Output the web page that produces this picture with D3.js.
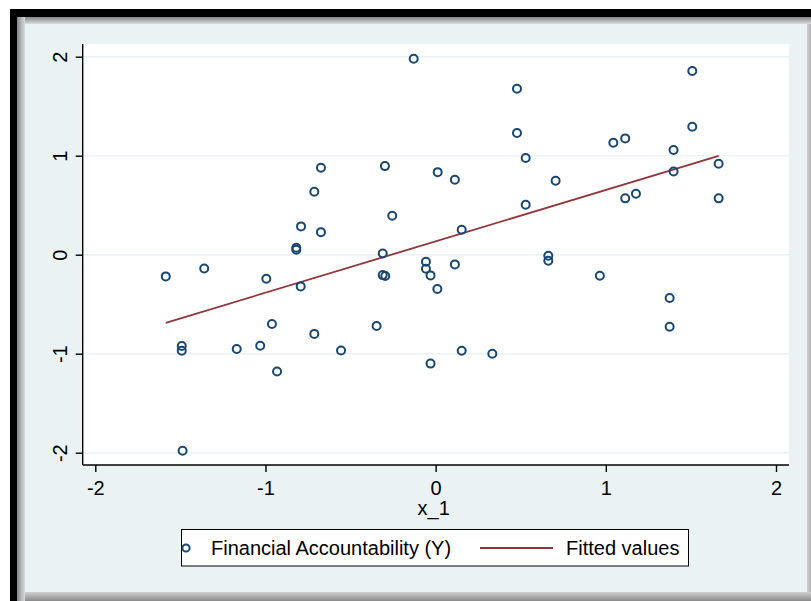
<!DOCTYPE html>
<html>
<head>
<meta charset="utf-8">
<script src="https://cdn.jsdelivr.net/npm/d3@7"></script>
<style>
  html, body { margin: 0; padding: 0; background: #ffffff; }
  svg { display: block; }
  text { font-family: "Liberation Sans", Arial, sans-serif; fill: #000; }
</style>
</head>
<body>
<div id="chart"></div>
<script>
// Observations: x_1 against Financial Accountability (Y)
const xValues = [
  -0.129, -0.674, -0.298, 0.012, -0.713, -0.255, -0.791, -0.674, -0.819, -0.819,
  -0.311, -1.586, -1.360, -0.995, -0.793, -0.311, -0.296, -0.057, -0.057, -0.030,
  0.010, -0.962, -0.713, -0.347, -1.492, -1.492, -1.169, -1.031, -0.556, -0.932,
  -0.030, -1.487, 1.508, 0.478, 0.478, 1.044, 1.114, 1.508, 0.529, 1.398,
  0.113, 0.705, 1.398, 1.663, 1.114, 1.177, 1.663, 0.529, 0.153, 0.662,
  0.662, 0.113, 0.965, 1.375, 1.375, 0.153, 0.333
];
const yValues = [
  1.980, 0.878, 0.895, 0.834, 0.636, 0.393, 0.286, 0.228, 0.070, 0.050,
  0.013, -0.219, -0.139, -0.243, -0.320, -0.206, -0.216, -0.072, -0.142, -0.209,
  -0.347, -0.700, -0.800, -0.720, -0.923, -0.970, -0.953, -0.920, -0.967, -1.180,
  -1.100, -1.980, 1.855, 1.676, 1.230, 1.130, 1.175, 1.292, 0.976, 1.057,
  0.757, 0.747, 0.841, 0.918, 0.569, 0.615, 0.569, 0.504, 0.252, -0.011,
  -0.062, -0.098, -0.213, -0.438, -0.728, -0.970, -1.000
];

// Linear fit (Fitted values)
const fitIntercept = 0.135;
const fitSlope = 0.519;

const xTicks = [-2, -1, 0, 1, 2];
const yTicks = [-2, -1, 0, 1, 2];
const xTitle = "x_1";
const legendLabels = ["Financial Accountability (Y)", "Fitted values"];

const W = 811, H = 601;
const markerColor = "#1a476f";
const fitColor = "#90353b";
const regionColor = "#eaf2f3";
const fontSize = "20px";

const svg = d3.select("#chart").append("svg")
  .attr("width", W).attr("height", H);

// ---- window frame with inset shadow ----
const defs = svg.append("defs");
function grad(id, x1, y1, x2, y2, c1, c2) {
  const g = defs.append("linearGradient").attr("id", id)
    .attr("x1", x1).attr("y1", y1).attr("x2", x2).attr("y2", y2);
  g.append("stop").attr("offset", "0%").attr("stop-color", c1);
  g.append("stop").attr("offset", "100%").attr("stop-color", c2);
}
grad("shTop", 0, 0, 0, 1, "#858585", "#d9dde0");
grad("shLeft", 0, 0, 1, 0, "#858585", "#d9dde0");
grad("shBottom", 0, 0, 0, 1, "#d0d0d0", "#8a8a8a");
grad("shRight", 0, 0, 1, 0, "#d0d0d0", "#b0b0b0");

svg.append("rect").attr("x", 10).attr("y", 9).attr("width", W - 10).attr("height", H - 9).attr("fill", "#c4c4c4");
svg.append("rect").attr("x", 17).attr("y", 17).attr("width", W - 17).attr("height", 7).attr("fill", "url(#shTop)");
svg.append("rect").attr("x", 17).attr("y", 17).attr("width", 8).attr("height", H - 17).attr("fill", "url(#shLeft)");
svg.append("rect").attr("x", 25).attr("y", 592).attr("width", W - 25).attr("height", H - 592).attr("fill", "url(#shBottom)");
svg.append("rect").attr("x", 807).attr("y", 24).attr("width", 4).attr("height", 568).attr("fill", "url(#shRight)");
svg.append("rect").attr("x", 10).attr("y", 9).attr("width", W - 10).attr("height", 8).attr("fill", "#000");
svg.append("rect").attr("x", 10).attr("y", 9).attr("width", 7).attr("height", H - 9).attr("fill", "#000");

// graph region
svg.append("rect").attr("x", 25).attr("y", 24).attr("width", 782).attr("height", 568).attr("fill", regionColor);

// ---- plot region ----
const plot = { left: 82.7, right: 789, top: 44, bottom: 465 };
svg.append("rect")
  .attr("x", plot.left).attr("y", plot.top)
  .attr("width", plot.right - plot.left).attr("height", plot.bottom - plot.top)
  .attr("fill", "#ffffff");

const x = d3.scaleLinear().domain([-2, 2]).range([95.3, 776]);
const y = d3.scaleLinear().domain([-2, 2]).range([452.7, 56.7]);

// horizontal grid lines
svg.append("g").selectAll("line").data(yTicks).join("line")
  .attr("x1", plot.left).attr("x2", plot.right)
  .attr("y1", d => y(d)).attr("y2", d => y(d))
  .attr("stroke", regionColor).attr("stroke-width", 1.6);

const fmt = d => d < 0 ? "-" + Math.abs(d) : String(d);

// axes
const yAxis = svg.append("g")
  .attr("transform", `translate(${plot.left},0)`)
  .call(d3.axisLeft(y).tickValues(yTicks).tickSize(7).tickSizeOuter(0).tickFormat(fmt));
yAxis.select(".domain").attr("d", `M0,${plot.top}V${plot.bottom}`).attr("stroke", "#000").attr("stroke-width", 1.4);
yAxis.selectAll(".tick line").attr("stroke", "#000").attr("stroke-width", 1.4);
yAxis.selectAll(".tick text")
  .attr("x", null).attr("dy", null)
  .attr("text-anchor", "middle")
  .attr("dominant-baseline", "central")
  .attr("transform", "translate(-23,0) rotate(-90)")
  .style("font-size", fontSize)
  .style("font-family", "'Liberation Sans', Arial, sans-serif");

const xAxis = svg.append("g")
  .attr("transform", `translate(0,${plot.bottom})`)
  .call(d3.axisBottom(x).tickValues(xTicks).tickSize(7).tickSizeOuter(0).tickFormat(fmt));
xAxis.select(".domain").attr("d", `M${plot.left},0H${plot.right}`).attr("stroke", "#000").attr("stroke-width", 1.4);
xAxis.selectAll(".tick line").attr("stroke", "#000").attr("stroke-width", 1.4);
xAxis.selectAll(".tick text")
  .attr("y", 23).attr("dy", null)
  .attr("dominant-baseline", "central")
  .style("font-size", fontSize)
  .style("font-family", "'Liberation Sans', Arial, sans-serif");

svg.append("text")
  .attr("x", x(0) - 2).attr("y", 515)
  .attr("text-anchor", "middle")
  .style("font-size", fontSize)
  .text(xTitle);

// fitted line across the observed x range
const [xmin, xmax] = d3.extent(xValues);
const fitLine = d3.line().x(d => x(d)).y(d => y(fitIntercept + fitSlope * d));
svg.append("path")
  .attr("d", fitLine([xmin, xmax]))
  .attr("fill", "none").attr("stroke", fitColor).attr("stroke-width", 1.8);

// hollow circle markers
svg.append("g").selectAll("circle").data(d3.range(xValues.length)).join("circle")
  .attr("cx", i => x(xValues[i]))
  .attr("cy", i => y(yValues[i]))
  .attr("r", 4)
  .attr("fill", "none")
  .attr("stroke", markerColor)
  .attr("stroke-width", 2);

// ---- legend ----
const lg = svg.append("g");
lg.append("rect").attr("x", 181.5).attr("y", 529.5).attr("width", 507).attr("height", 36.5)
  .attr("fill", "#ffffff").attr("stroke", "#000").attr("stroke-width", 1);
lg.append("circle").attr("cx", 186).attr("cy", 548).attr("r", 3.6)
  .attr("fill", "none").attr("stroke", markerColor).attr("stroke-width", 2);
lg.append("text").attr("x", 211).attr("y", 555).style("font-size", fontSize).text(legendLabels[0]);
lg.append("line").attr("x1", 480).attr("x2", 553).attr("y1", 548).attr("y2", 548)
  .attr("stroke", fitColor).attr("stroke-width", 1.8);
lg.append("text").attr("x", 566).attr("y", 555).style("font-size", fontSize).text(legendLabels[1]);
</script>
</body>
</html>
